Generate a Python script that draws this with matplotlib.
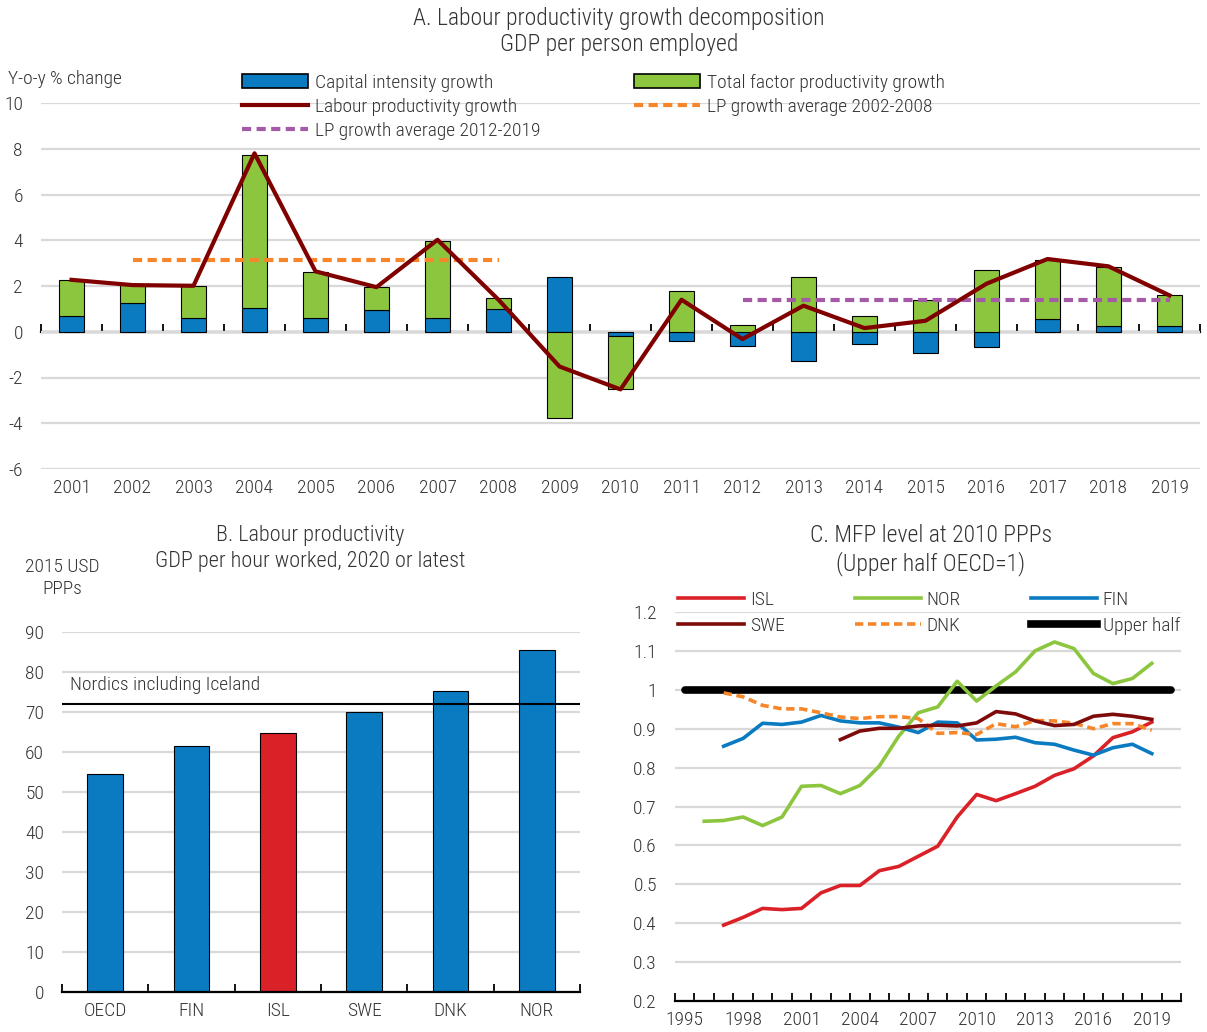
import numpy as np
import matplotlib
matplotlib.use('Agg')
import matplotlib.pyplot as plt
from matplotlib.patches import Patch
from matplotlib.lines import Line2D
from matplotlib.ticker import FuncFormatter

plt.rcParams['font.family'] = ['Roboto Condensed', 'DejaVu Sans']
plt.rcParams['font.weight'] = 'light'
plt.rcParams['axes.unicode_minus'] = False
TXT = '#333333'
FS = 14

# ---------------- Panel A data ----------------
years_a = [2001, 2002, 2003, 2004, 2005, 2006, 2007, 2008, 2009, 2010,
           2011, 2012, 2013, 2014, 2015, 2016, 2017, 2018, 2019]
capital_intensity = [0.67, 1.25, 0.58, 1.03, 0.60, 0.96, 0.60, 0.99, 2.38, -0.19,
                     -0.41, -0.63, -1.27, -0.52, -0.95, -0.67, 0.57, 0.26, 0.26]
tfp_growth = [1.59, 0.78, 1.40, 6.70, 2.01, 0.98, 3.38, 0.50, -3.79, -2.32,
              1.76, 0.29, 2.39, 0.67, 1.40, 2.71, 2.58, 2.57, 1.34]
lp_growth = [2.27, 2.04, 2.01, 7.80, 2.64, 1.95, 4.02, 1.40, -1.52, -2.52,
             1.40, -0.32, 1.14, 0.16, 0.48, 2.10, 3.18, 2.86, 1.59]
lp_avg_2002_2008 = 3.13
lp_avg_2012_2019 = 1.40
avg1_years = (2002, 2008)
avg2_years = (2012, 2019)

# ---------------- Panel B data ----------------
countries_b = ['OECD', 'FIN', 'ISL', 'SWE', 'DNK', 'NOR']
gdp_per_hour = [54.5, 61.6, 64.8, 70.0, 75.3, 85.4]
nordics_avg = 72.1

# ---------------- Panel C data ----------------
years_c = list(range(1995, 2021))
nan = np.nan
isl_mfp = [nan, nan, 0.395, 0.415, 0.438, 0.435, 0.438, 0.478, 0.497, 0.497,
           0.535, 0.546, 0.572, 0.598, 0.673, 0.731, 0.715, 0.733, 0.752, 0.780,
           0.797, 0.830, 0.877, 0.892, 0.917, nan]
nor_mfp = [nan, 0.662, 0.664, 0.673, 0.651, 0.673, 0.752, 0.754, 0.733, 0.754,
           0.804, 0.881, 0.941, 0.956, 1.022, 0.971, 1.010, 1.046, 1.100, 1.123,
           1.106, 1.042, 1.016, 1.029, 1.068, nan]
fin_mfp = [nan, nan, 0.855, 0.875, 0.914, 0.911, 0.917, 0.934, 0.920, 0.915,
           0.915, 0.904, 0.890, 0.917, 0.915, 0.871, 0.873, 0.878, 0.864, 0.860,
           0.845, 0.832, 0.851, 0.860, 0.836, nan]
swe_mfp = [nan, nan, nan, nan, nan, nan, nan, nan, 0.872, 0.894,
           0.901, 0.901, 0.907, 0.909, 0.907, 0.915, 0.944, 0.938, 0.920, 0.908,
           0.911, 0.932, 0.937, 0.932, 0.924, nan]
dnk_mfp = [nan, nan, 0.992, 0.982, 0.960, 0.951, 0.951, 0.941, 0.930, 0.926,
           0.931, 0.931, 0.926, 0.888, 0.890, 0.885, 0.913, 0.905, 0.921, 0.920,
           0.914, 0.900, 0.913, 0.913, 0.896, nan]
upper_half = [1.0] * len(years_c)

BLUE = '#0A7BC1'
GREEN = '#8CC63F'
DARKRED = '#800000'
ORANGE = '#F7862A'
PURPLE = '#A55AA8'
RED = '#DA2128'
SWEC = '#7E0A0A'
GRID = '#D9D9D9'
DASH = (0, (2.2, 1.3))

W, H = 1207, 1032
fig = plt.figure(figsize=(W / 100, H / 100), dpi=100)


def px(x0, y0, x1, y1):
    return [x0 / W, 1 - y1 / H, (x1 - x0) / W, (y1 - y0) / H]


def style_axes(ax):
    for s in ['top', 'right', 'left']:
        ax.spines[s].set_visible(False)
    ax.tick_params(axis='y', length=0, pad=13, labelsize=FS, labelcolor=TXT)
    ax.grid(axis='y', color=GRID, lw=1.6)
    ax.set_axisbelow(True)


# ================= Panel A =================
axA = fig.add_axes(px(41, 103, 1200, 469))
style_axes(axA)
xa = np.arange(len(years_a))
cap = np.array(capital_intensity)
tfp = np.array(tfp_growth)
tfp_bottom = np.where(np.sign(cap) == np.sign(tfp), cap, 0.0)
axA.bar(xa, cap, width=0.41, color=BLUE, edgecolor='black', lw=0.8, zorder=2)
axA.bar(xa, tfp, bottom=tfp_bottom, width=0.41, color=GREEN, edgecolor='black', lw=0.8, zorder=2)
axA.plot(xa, lp_growth, color=DARKRED, lw=3, zorder=4)
i0, i1 = years_a.index(avg1_years[0]), years_a.index(avg1_years[1])
axA.plot([xa[i0], xa[i1]], [lp_avg_2002_2008] * 2, color=ORANGE, lw=3, ls=DASH, zorder=3)
j0, j1 = years_a.index(avg2_years[0]), years_a.index(avg2_years[1])
axA.plot([xa[j0], xa[j1]], [lp_avg_2012_2019] * 2, color=PURPLE, lw=3, ls=DASH, zorder=3)
ya0, ya1 = -6, 10
axA.set_ylim(ya0, ya1)
axA.set_yticks(np.arange(-6, 11, 2))
axA.set_xlim(-0.5, len(years_a) - 0.5)
axA.spines['bottom'].set_visible(False)
axA.set_xticks(xa)
axA.set_xticklabels([str(y) for y in years_a])
axA.tick_params(axis='x', length=0, pad=7, labelsize=FS, labelcolor=TXT)
secA = axA.secondary_xaxis((0 - ya0) / (ya1 - ya0))
secA.set_xticks(np.arange(-0.5, len(years_a), 1.0))
secA.tick_params(axis='x', direction='in', length=6, width=1.3, labelbottom=False,
                 labeltop=False, color='black')
for s in secA.spines.values():
    s.set_linewidth(1.6)
    s.set_color('black')

fig.text(619 / W, 1 - 18 / H, 'A. Labour productivity growth decomposition',
         ha='center', va='center', fontsize=17, color=TXT)
fig.text(619 / W, 1 - 44 / H, 'GDP per person employed',
         ha='center', va='center', fontsize=17, color=TXT)
fig.text(8 / W, 1 - 79 / H, 'Y-o-y % change', ha='left', va='center',
         fontsize=FS, color=TXT)

handlesA = [
    Patch(facecolor=BLUE, edgecolor='black', lw=1.2, label='Capital intensity growth'),
    Line2D([], [], color=DARKRED, lw=3, label='Labour productivity growth'),
    Line2D([], [], color=PURPLE, lw=3, ls=DASH, label='LP growth average 2012-2019'),
    Patch(facecolor=GREEN, edgecolor='black', lw=1.2, label='Total factor productivity growth'),
    Line2D([], [], color=ORANGE, lw=3, ls=DASH, label='LP growth average 2002-2008'),
]
legA = fig.legend(handles=handlesA, loc='upper left', bbox_to_anchor=(242 / W, 1 - 74 / H),
                  ncol=2, frameon=False, fontsize=FS, handlelength=3.4, handletextpad=0.35,
                  columnspacing=4.8, labelspacing=0.3, borderpad=0, borderaxespad=0)
for t in legA.get_texts():
    t.set_color(TXT)

# ================= Panel B =================
axB = fig.add_axes(px(62, 632, 580, 992))
style_axes(axB)
xb = np.arange(len(countries_b))
colsB = [RED if c == 'ISL' else BLUE for c in countries_b]
axB.bar(xb, gdp_per_hour, width=0.41, color=colsB, edgecolor='black', lw=0.8, zorder=2)
axB.axhline(nordics_avg, color='black', lw=1.5, zorder=3)
axB.text(0.016, nordics_avg + 2.3, 'Nordics including Iceland', transform=axB.get_yaxis_transform(),
         ha='left', va='bottom', fontsize=FS, color=TXT)
axB.set_ylim(0, 90)
axB.set_yticks(np.arange(0, 91, 10))
axB.set_xlim(-0.5, len(countries_b) - 0.5)
axB.set_xticks(xb)
axB.set_xticklabels(countries_b)
axB.set_xticks(np.arange(-0.5, len(countries_b), 1.0), minor=True)
axB.tick_params(axis='x', which='major', length=0, pad=7, labelsize=FS, labelcolor=TXT)
axB.tick_params(axis='x', which='minor', direction='in', length=6, width=1.3, color='black')
axB.spines['bottom'].set_linewidth(1.6)
axB.spines['bottom'].set_color('black')

fig.text(310 / W, 1 - 536 / H, 'B. Labour productivity', ha='center', va='center',
         fontsize=16, color=TXT)
fig.text(310 / W, 1 - 562 / H, 'GDP per hour worked, 2020 or latest', ha='center',
         va='center', fontsize=16, color=TXT)
fig.text(62 / W, 1 - 578 / H, '2015 USD\nPPPs', ha='center', va='center',
         fontsize=FS, color=TXT, linespacing=1.3)

# ================= Panel C =================
axC = fig.add_axes(px(675, 612, 1181, 1001))
style_axes(axC)
xc = np.arange(len(years_c))
lwC = 2.6
axC.plot(xc, upper_half, color='black', lw=5.5, solid_capstyle='round', zorder=2)
axC.plot(xc, nor_mfp, color=GREEN, lw=lwC, zorder=3)
axC.plot(xc, isl_mfp, color=RED, lw=lwC, zorder=3)
axC.plot(xc, fin_mfp, color=BLUE, lw=lwC, zorder=3)
axC.plot(xc, dnk_mfp, color=ORANGE, lw=lwC, ls=(0, (2.3, 1.3)), zorder=3)
axC.plot(xc, swe_mfp, color=SWEC, lw=lwC, zorder=3)
axC.set_ylim(0.2, 1.2)
axC.set_yticks(np.round(np.arange(0.2, 1.21, 0.1), 1))
axC.yaxis.set_major_formatter(FuncFormatter(lambda v, p: f'{v:g}'))
axC.set_xlim(-0.5, len(years_c) - 0.5)
axC.set_xticks(xc[::3])
axC.set_xticklabels([str(y) for y in years_c[::3]])
axC.set_xticks(np.arange(-0.5, len(years_c), 1.0), minor=True)
axC.tick_params(axis='x', which='major', length=0, pad=7, labelsize=FS, labelcolor=TXT)
axC.tick_params(axis='x', which='minor', direction='in', length=6, width=1.3, color='black')
axC.spines['bottom'].set_linewidth(1.6)
axC.spines['bottom'].set_color('black')

fig.text(931 / W, 1 - 535 / H, 'C. MFP level at 2010 PPPs', ha='center', va='center',
         fontsize=17, color=TXT)
fig.text(931 / W, 1 - 564 / H, '(Upper half OECD=1)', ha='center', va='center',
         fontsize=17, color=TXT)

handlesC = [
    Line2D([], [], color=RED, lw=lwC, label='ISL'),
    Line2D([], [], color=SWEC, lw=lwC, label='SWE'),
    Line2D([], [], color=GREEN, lw=lwC, label='NOR'),
    Line2D([], [], color=ORANGE, lw=lwC, ls=(0, (2.3, 1.3)), label='DNK'),
    Line2D([], [], color=BLUE, lw=lwC, label='FIN'),
    Line2D([], [], color='black', lw=5.5, label='Upper half'),
]
legC = fig.legend(handles=handlesC, loc='upper left', bbox_to_anchor=(678 / W, 1 - 591 / H),
                  ncol=3, frameon=False, fontsize=FS, handlelength=3.4, handletextpad=0.3,
                  columnspacing=3.6, labelspacing=0.42, borderpad=0, borderaxespad=0)
for t in legC.get_texts():
    t.set_color(TXT)

fig.savefig('out.png', dpi=100)
